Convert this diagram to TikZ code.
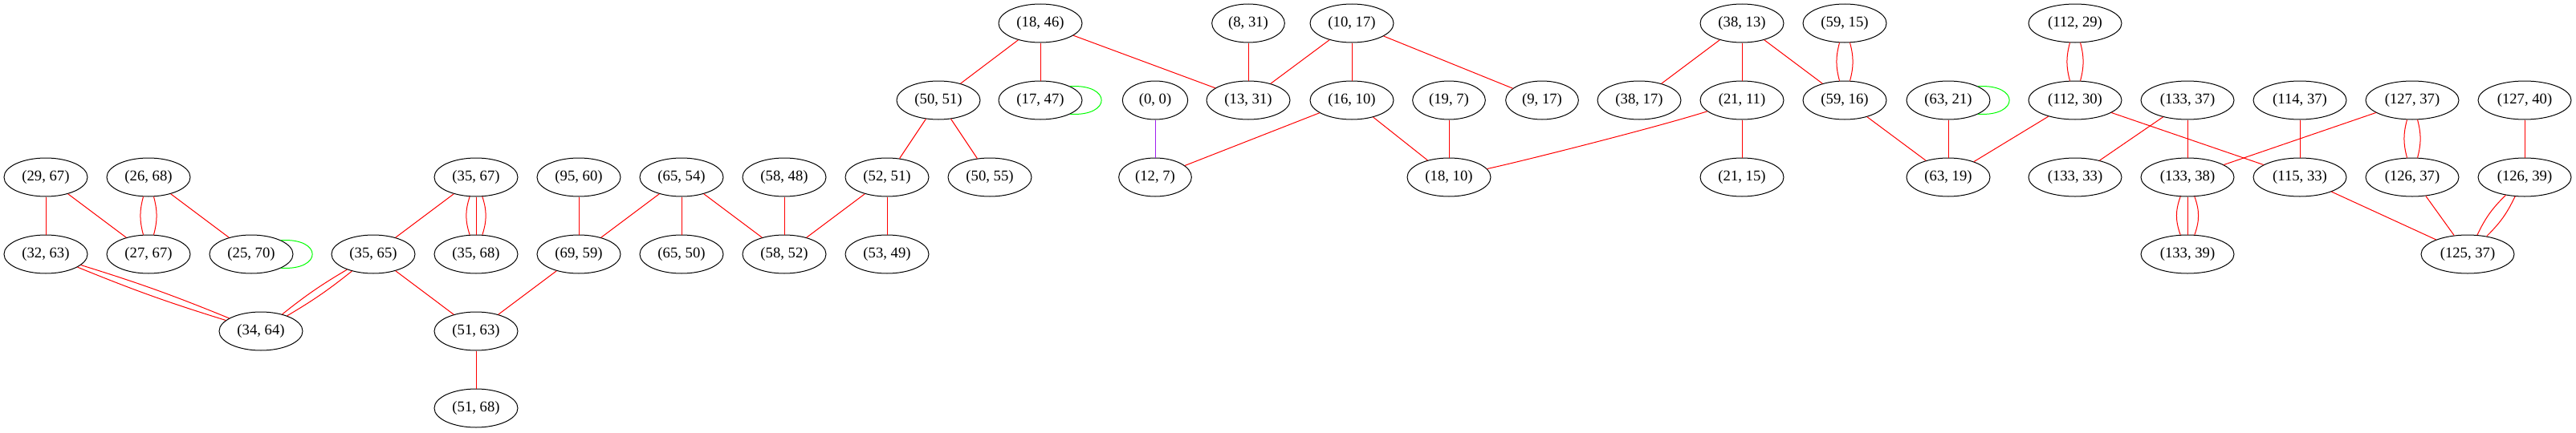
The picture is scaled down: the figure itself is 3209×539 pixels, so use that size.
\documentclass[tikz,border=0pt]{standalone}
\usepackage{fontspec}
\setmainfont{Liberation Serif}
\usetikzlibrary{shapes.geometric}
\definecolor{loopgreen}{RGB}{0,255,0}
\definecolor{edgepurple}{RGB}{160,32,240}
\tikzset{
  nd/.style={ellipse, draw=black, line width=0.75pt, inner sep=0pt,
    minimum height=36pt, minimum width=78pt, font=\fontsize{14}{16}\selectfont},
  ndm/.style={nd, minimum width=68pt},
  nds/.style={nd, minimum width=61pt},
  ndl/.style={nd, minimum width=87pt},
  ed/.style={draw=red, line width=0.75pt},
  edp/.style={draw=edgepurple, line width=0.75pt},
  lp/.style={draw=loopgreen, line width=0.75pt},
}
\begin{document}
\begin{tikzpicture}[x=0.75pt,y=-0.75pt]
\useasboundingbox (0,0) rectangle (3209,539);
% row 0
\node[nd]  (n18x46)  at (1296,29) {(18, 46)};
\node[ndm] (n8x31)   at (1555,29) {(8, 31)};
\node[nd]  (n10x17)  at (1684,29) {(10, 17)};
\node[nd]  (n38x13)  at (2170,29) {(38, 13)};
\node[nd]  (n59x15)  at (2298,29) {(59, 15)};
\node[ndl] (n112x29) at (2585,29) {(112, 29)};
% row 1
\node[nd]  (n50x51)  at (1169,125) {(50, 51)};
\node[nd]  (n17x47)  at (1296,125) {(17, 47)};
\node[nds] (n0x0)    at (1439,125) {(0, 0)};
\node[nd]  (n13x31)  at (1555,125) {(13, 31)};
\node[nd]  (n16x10)  at (1684,125) {(16, 10)};
\node[ndm] (n19x7)   at (1805,125) {(19, 7)};
\node[ndm] (n9x17)   at (1921,125) {(9, 17)};
\node[nd]  (n38x17)  at (2042,125) {(38, 17)};
\node[nd]  (n21x11)  at (2170,125) {(21, 11)};
\node[nd]  (n59x16)  at (2298,125) {(59, 16)};
\node[nd]  (n63x21)  at (2427,125) {(63, 21)};
\node[ndl] (n112x30) at (2585,125) {(112, 30)};
\node[ndl] (n133x37) at (2725,125) {(133, 37)};
\node[ndl] (n114x37) at (2865,125) {(114, 37)};
\node[ndl] (n127x37) at (3005,125) {(127, 37)};
\node[ndl] (n127x40) at (3145,125) {(127, 40)};
% row 2
\node[nd]  (n29x67)  at (57,221)   {(29, 67)};
\node[nd]  (n26x68)  at (185,221)  {(26, 68)};
\node[nd]  (n35x67)  at (593,221)  {(35, 67)};
\node[nd]  (n95x60)  at (721,221)  {(95, 60)};
\node[nd]  (n65x54)  at (849,221)  {(65, 54)};
\node[nd]  (n58x48)  at (977,221)  {(58, 48)};
\node[nd]  (n52x51)  at (1105,221) {(52, 51)};
\node[nd]  (n50x55)  at (1233,221) {(50, 55)};
\node[ndm] (n12x7)   at (1439,221) {(12, 7)};
\node[nd]  (n18x10)  at (1805,221) {(18, 10)};
\node[nd]  (n21x15)  at (2170,221) {(21, 15)};
\node[nd]  (n63x19)  at (2427,221) {(63, 19)};
\node[ndl] (n133x33) at (2585,221) {(133, 33)};
\node[ndl] (n133x38) at (2725,221) {(133, 38)};
\node[ndl] (n115x33) at (2865,221) {(115, 33)};
\node[ndl] (n126x37) at (3005,221) {(126, 37)};
\node[ndl] (n126x39) at (3145,221) {(126, 39)};
% row 3
\node[nd]  (n32x63)  at (57,317)   {(32, 63)};
\node[nd]  (n27x67)  at (185,317)  {(27, 67)};
\node[nd]  (n25x70)  at (313,317)  {(25, 70)};
\node[nd]  (n35x65)  at (465,317)  {(35, 65)};
\node[nd]  (n35x68)  at (593,317)  {(35, 68)};
\node[nd]  (n69x59)  at (721,317)  {(69, 59)};
\node[nd]  (n65x50)  at (849,317)  {(65, 50)};
\node[nd]  (n58x52)  at (977,317)  {(58, 52)};
\node[nd]  (n53x49)  at (1105,317) {(53, 49)};
\node[ndl] (n133x39) at (2725,317) {(133, 39)};
\node[ndl] (n125x37) at (3074,317) {(125, 37)};
% row 4, 5
\node[nd]  (n34x64)  at (325,413)  {(34, 64)};
\node[nd]  (n51x63)  at (593,413)  {(51, 63)};
\node[nd]  (n51x68)  at (593,509)  {(51, 68)};

% edges left part
\draw[ed] (n29x67) -- (n32x63);
\draw[ed] (n29x67) -- (n27x67);
\draw[ed] (n26x68) to[bend left=15] (n27x67);
\draw[ed] (n26x68) to[bend right=15] (n27x67);
\draw[ed] (n26x68) -- (n25x70);
\draw[ed] (n32x63) to[bend left=2.5] (n34x64);
\draw[ed] (n32x63) to[bend right=2.5] (n34x64);
\draw[ed] (n35x67) -- (n35x65);
\draw[ed] (n35x67) -- (n35x68);
\draw[ed] (n35x67) to[bend left=18] (n35x68);
\draw[ed] (n35x67) to[bend right=18] (n35x68);
\draw[ed] (n35x65) to[bend left=4] (n34x64);
\draw[ed] (n35x65) to[bend right=4] (n34x64);
\draw[ed] (n35x65) -- (n51x63);
\draw[ed] (n95x60) -- (n69x59);
\draw[ed] (n69x59) -- (n51x63);
\draw[ed] (n51x63) -- (n51x68);
\draw[ed] (n65x54) -- (n69x59);
\draw[ed] (n65x54) -- (n65x50);
\draw[ed] (n65x54) -- (n58x52);
\draw[ed] (n58x48) -- (n58x52);
\draw[ed] (n52x51) -- (n58x52);
\draw[ed] (n52x51) -- (n53x49);
\draw[ed] (n50x51) -- (n52x51);
\draw[ed] (n50x51) -- (n50x55);
% middle
\draw[ed] (n18x46) -- (n50x51);
\draw[ed] (n18x46) -- (n17x47);
\draw[ed] (n18x46) -- (n13x31);
\draw[edp] (n0x0) -- (n12x7);
\draw[ed] (n8x31) -- (n13x31);
\draw[ed] (n10x17) -- (n13x31);
\draw[ed] (n10x17) -- (n16x10);
\draw[ed] (n10x17) -- (n9x17);
\draw[ed] (n16x10) -- (n12x7);
\draw[ed] (n16x10) -- (n18x10);
\draw[ed] (n19x7) -- (n18x10);
\draw[ed] (n38x13) -- (n38x17);
\draw[ed] (n38x13) -- (n21x11);
\draw[ed] (n38x13) -- (n59x16);
\draw[ed] (n21x11) -- (n21x15);
\draw[ed] (n18x10) .. controls +(100,-22) and +(-100,32) .. (n21x11);
\draw[ed] (n59x15) to[bend left=15] (n59x16);
\draw[ed] (n59x15) to[bend right=15] (n59x16);
\draw[ed] (n59x16) -- (n63x19);
\draw[ed] (n63x21) -- (n63x19);
% right part
\draw[ed] (n112x29) to[bend left=15] (n112x30);
\draw[ed] (n112x29) to[bend right=15] (n112x30);
\draw[ed] (n112x30) -- (n63x19);
\draw[ed] (n112x30) -- (n115x33);
\draw[ed] (n133x37) -- (n133x33);
\draw[ed] (n133x37) -- (n133x38);
\draw[ed] (n114x37) -- (n115x33);
\draw[ed] (n127x37) -- (n133x38);
\draw[ed] (n127x37) to[bend left=15] (n126x37);
\draw[ed] (n127x37) to[bend right=15] (n126x37);
\draw[ed] (n127x40) -- (n126x39);
\draw[ed] (n133x38) -- (n133x39);
\draw[ed] (n133x38) to[bend left=20] (n133x39);
\draw[ed] (n133x38) to[bend right=20] (n133x39);
\draw[ed] (n115x33) -- (n125x37);
\draw[ed] (n126x37) -- (n125x37);
\draw[ed] (n126x39) to[bend left=10] (n125x37);
\draw[ed] (n126x39) to[bend right=10] (n125x37);
% self loops
\draw[lp] (n25x70.25) .. controls +(52,-3) and +(52,3) .. (n25x70.-25);
\draw[lp] (n17x47.25) .. controls +(52,-3) and +(52,3) .. (n17x47.-25);
\draw[lp] (n63x21.25) .. controls +(52,-3) and +(52,3) .. (n63x21.-25);
\end{tikzpicture}
\end{document}
